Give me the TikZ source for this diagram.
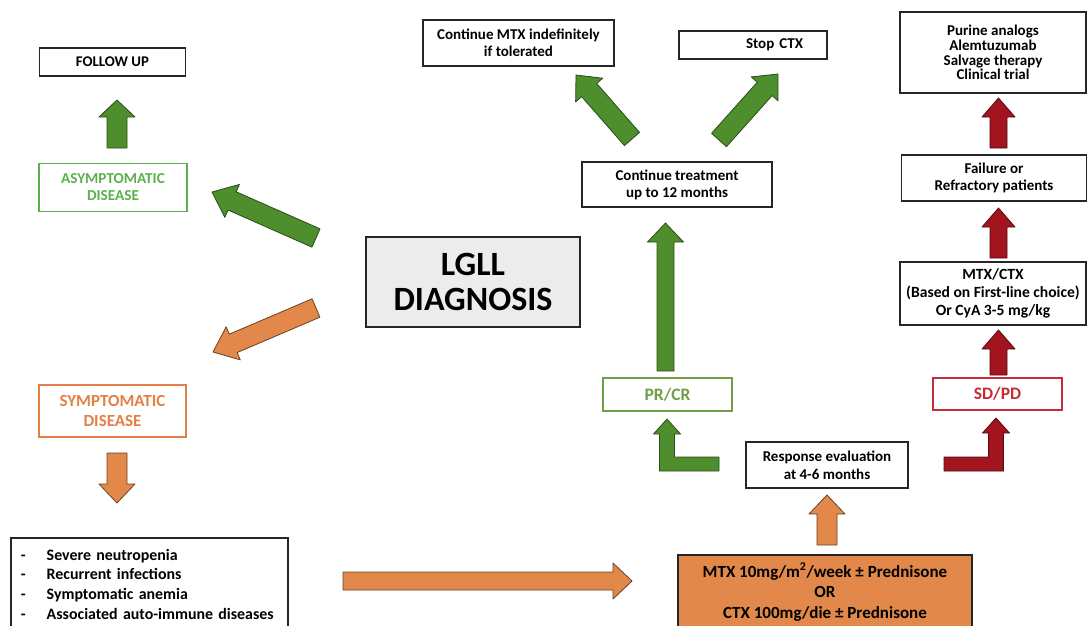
\documentclass[tikz,border=0pt]{standalone}
\usepackage{fontspec}
\setmainfont{Carlito}
\usetikzlibrary{calc}
\definecolor{mygreen}{RGB}{78,142,44}
\definecolor{mygreendark}{RGB}{42,78,24}
\definecolor{mygreentext}{RGB}{92,176,78}
\definecolor{mygreenpale}{RGB}{112,158,70}
\definecolor{myorange}{RGB}{226,136,74}
\definecolor{myorangedark}{RGB}{105,66,36}
\definecolor{myorangetext}{RGB}{228,128,70}
\definecolor{myred}{RGB}{162,20,30}
\definecolor{myreddark}{RGB}{84,10,16}
\definecolor{myredtext}{RGB}{196,44,56}
\definecolor{mygray}{RGB}{236,236,236}

% block arrow: style, tail, tip, shaft half width, head half width, head length
\newcommand{\fatarrow}[6]{%
  \coordinate (neck) at ($(#3)!#6!(#2)$);
  \draw[#1] ($(#2)!#4!90:(#3)$) -- ($(neck)!#4!90:(#3)$) -- ($(neck)!#5!90:(#3)$)
    -- (#3) -- ($(neck)!#5!-90:(#3)$) -- ($(neck)!#4!-90:(#3)$) -- ($(#2)!#4!-90:(#3)$) -- cycle;
}
% bent arrow: style, tail of the bar, tip
\newcommand{\bendarrow}[3]{%
  \path[#1] let \p1=(#2), \p2=(#3), \n1={ifthenelse(\x1>\x2,1,-1)} in
    (\x1,\y1+7pt) -- (\x2+\n1*7.5pt,\y1+7pt) -- (\x2+\n1*7.5pt,\y2-15pt) -- (\x2+\n1*13.5pt,\y2-15pt)
    -- (\x2,\y2) -- (\x2-\n1*13.5pt,\y2-15pt) -- (\x2-\n1*7.5pt,\y2-15pt) -- (\x2-\n1*7.5pt,\y1-7pt)
    -- (\x1,\y1-7pt) -- cycle;
}

\begin{document}
\begin{tikzpicture}[x=1pt,y=-1pt,
  box/.style={draw=black!85, line width=1.5pt, fill=white, inner sep=0pt, align=center,
    font=\bfseries\fontsize{15}{17}\selectfont},
  greenbox/.style={box, draw=mygreentext, text=mygreentext, font=\bfseries\fontsize{15.2}{17}\selectfont},
  orangebox/.style={box, draw=myorangetext, text=myorangetext, font=\bfseries\fontsize{17}{20}\selectfont},
  palebox/.style={box, draw=mygreenpale, text=mygreenpale, font=\bfseries\fontsize{17.5}{20}\selectfont},
  redbox/.style={box, draw=myredtext, text=myredtext, font=\bfseries\fontsize{17.5}{20}\selectfont},
  greenarrow/.style={draw=mygreendark, fill=mygreen, line width=0.8pt, line join=round},
  orangearrow/.style={draw=myorangedark, fill=myorange, line width=0.8pt, line join=round},
  redarrow/.style={draw=myreddark, fill=myred, line width=0.8pt, line join=round}]

  % Bounding box
  \useasboundingbox (0,0) rectangle (1088,625);

  % Left column
  \node[box, minimum width=146pt, minimum height=28pt, font=\bfseries\fontsize{14.8}{17}\selectfont] (follow) at (112.5,62) {FOLLOW UP};
  \node[greenbox, minimum width=148pt, minimum height=48pt] (asym) at (113,187.5) {ASYMPTOMATIC\\DISEASE};
  \node[orangebox, minimum width=147pt, minimum height=52pt] (sym) at (112.5,411) {SYMPTOMATIC\\DISEASE};
  \node[box, anchor=north west, text width=257pt, inner xsep=10pt, minimum height=93pt, align=left,
    font=\bfseries\fontsize{15.9}{19.7}\selectfont] (crit) at (10,537)
    {\makebox[26pt][l]{-}Severe neutropenia\\
     \makebox[26pt][l]{-}Recurrent infections\\
     \makebox[26pt][l]{-}Symptomatic anemia\\
     \makebox[26pt][l]{-}Associated auto-immune diseases};

  % Diagnosis
  \node[box, fill=mygray, minimum width=214pt, minimum height=90pt, font=\bfseries\fontsize{34}{35}\selectfont] (lgll) at (473,282) {LGLL\\DIAGNOSIS};

  % First line and response
  \node[box, fill=myorange, minimum width=294pt, minimum height=74pt, font=\bfseries\fontsize{17}{20.5}\selectfont] (mtx) at (825,592)
    {MTX 10mg/m\textsuperscript{2}/week ± Prednisone\\OR\\CTX 100mg/die ± Prednisone};
  \node[box, minimum width=162pt, minimum height=46pt, font=\bfseries\fontsize{15}{18}\selectfont] (resp) at (827,465) {Response evaluation\\at 4-6 months};
  \node[palebox, minimum width=129pt, minimum height=33pt] (prcr) at (667.5,394.5) {PR/CR};
  \node[redbox, minimum width=129pt, minimum height=32pt] (sdpd) at (997.5,394) {SD/PD};

  % Responders
  \node[box, minimum width=190pt, minimum height=45pt] (cont) at (677,184.5) {Continue treatment\\up to 12 months};
  \node[box, minimum width=191pt, minimum height=46pt] (contmtx) at (518.5,43) {Continue MTX indefinitely\\if tolerated};
  \node[box, minimum width=148pt, minimum height=28pt, text width=100pt, align=right] (stop) at (753,45) {Stop CTX};

  % Non responders
  \node[box, minimum width=186pt, minimum height=81pt, font=\bfseries\fontsize{15}{14.8}\selectfont] (purine) at (993,52.5)
    {Purine analogs\\Alemtuzumab\\Salvage therapy\\Clinical trial};
  \node[box, minimum width=185pt, minimum height=46pt] (fail) at (994,178) {Failure or\\Refractory patients};
  \node[box, minimum width=186pt, minimum height=63pt, font=\bfseries\fontsize{15.6}{18}\selectfont] (second) at (993,293.5)
    {MTX/CTX\\(Based on First-line choice)\\Or CyA 3-5 mg/kg};

  % Arrow ends
  \coordinate (fu-t) at (117,148);   \coordinate (fu-h) at (117,100);
  \coordinate (as-t) at (316,238);   \coordinate (as-h) at (212,192);
  \coordinate (sy-t) at (316,308);   \coordinate (sy-h) at (213,352);
  \coordinate (dn-t) at (117,453);   \coordinate (dn-h) at (117,503);
  \coordinate (tr-t) at (343,581);   \coordinate (tr-h) at (632,581);
  \coordinate (ev-t) at (827,545);   \coordinate (ev-h) at (827,495);
  \coordinate (pr-t) at (719,464);   \coordinate (pr-h) at (667,419);
  \coordinate (sd-t) at (944,464);   \coordinate (sd-h) at (996,418);
  \coordinate (up-t) at (665.5,371); \coordinate (up-h) at (665.5,223);
  \coordinate (cm-t) at (632,139);   \coordinate (cm-h) at (576,75);
  \coordinate (st-t) at (719,140);   \coordinate (st-h) at (778,74);
  \coordinate (r1-t) at (998.5,375); \coordinate (r1-h) at (998.5,330);
  \coordinate (r2-t) at (998.5,258); \coordinate (r2-h) at (998.5,208);
  \coordinate (r3-t) at (998.5,148); \coordinate (r3-h) at (998.5,98);

  % Green arrows
  \fatarrow{greenarrow}{fu-t}{fu-h}{10pt}{18pt}{17pt}
  \fatarrow{greenarrow}{as-t}{as-h}{10pt}{18pt}{22pt}
  \fatarrow{greenarrow}{up-t}{up-h}{8.5pt}{18pt}{19pt}
  \fatarrow{greenarrow}{cm-t}{cm-h}{10pt}{18pt}{20pt}
  \fatarrow{greenarrow}{st-t}{st-h}{10pt}{18pt}{20pt}
  \bendarrow{greenarrow}{pr-t}{pr-h}

  % Orange arrows
  \fatarrow{orangearrow}{sy-t}{sy-h}{10pt}{18pt}{22pt}
  \fatarrow{orangearrow}{dn-t}{dn-h}{10pt}{18pt}{19pt}
  \fatarrow{orangearrow}{tr-t}{tr-h}{9pt}{18pt}{19pt}
  \fatarrow{orangearrow}{ev-t}{ev-h}{10pt}{18pt}{19pt}

  % Red arrows
  \bendarrow{redarrow}{sd-t}{sd-h}
  \fatarrow{redarrow}{r1-t}{r1-h}{8.5pt}{16.5pt}{19pt}
  \fatarrow{redarrow}{r2-t}{r2-h}{8.5pt}{16.5pt}{19pt}
  \fatarrow{redarrow}{r3-t}{r3-h}{8.5pt}{16.5pt}{19pt}

\end{tikzpicture}
\end{document}
